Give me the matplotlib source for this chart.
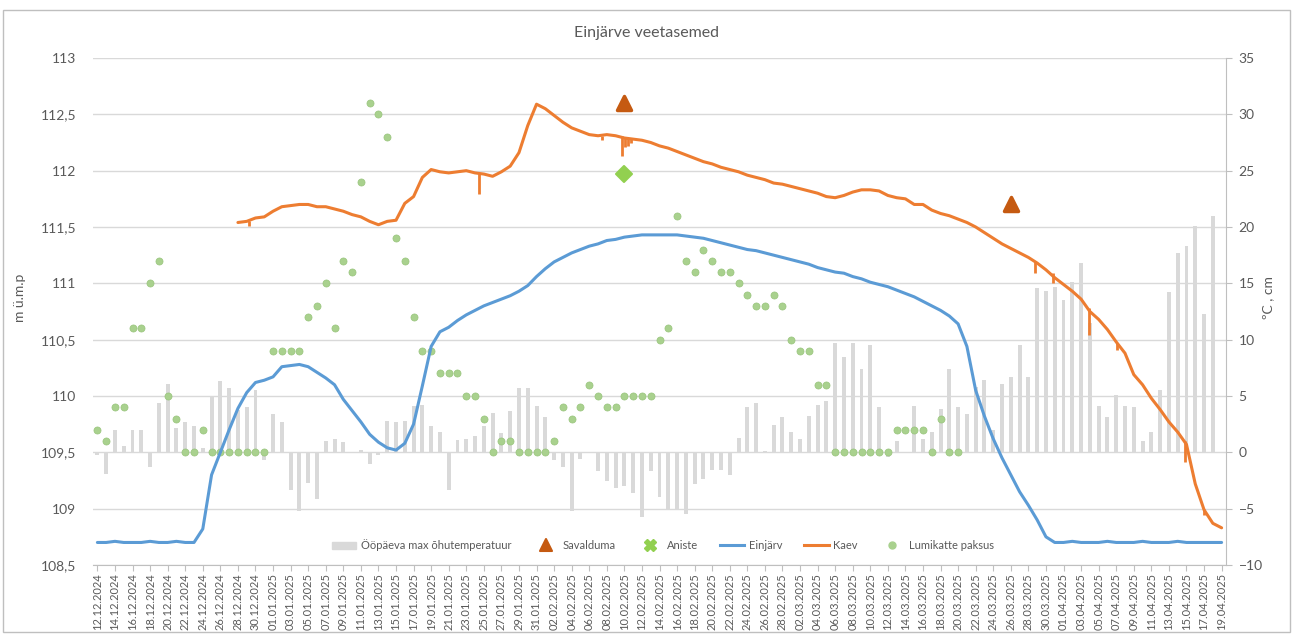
import numpy as np
import pandas as pd
import matplotlib
matplotlib.use("Agg")
import matplotlib.pyplot as plt
from matplotlib.lines import Line2D
from matplotlib.markers import MarkerStyle
from matplotlib.patches import Patch, Rectangle
from matplotlib.ticker import FuncFormatter

plt.rcParams["font.family"] = ["Lato", "DejaVu Sans"]

dates = pd.date_range("2024-12-12", "2025-04-19", freq="D")
tick_labels = dates[::2].strftime("%d.%m.%Y")

# daily max air temperature, degC (from 12.12.2024, 19.04 missing)
temp_max = [
    -0.2, -1.9, 2.0, 0.6, 2.0, 2.0, -1.3, 4.4, 6.1, 2.2,
    2.7, 2.3, 0.35, 4.9, 6.3, 5.7, 3.8, 4.0, 5.5, -0.7,
    3.4, 2.7, -3.3, -5.2, -2.7, -4.1, 1.0, 1.15, 0.9, 0.0,
    0.2, -1.0, -0.25, 2.8, 2.7, 2.8, 4.1, 4.2, 2.3, 1.8,
    -3.3, 1.1, 1.2, 1.45, 2.3, 3.5, 1.7, 3.7, 5.7, 5.75,
    4.1, 3.1, -0.7, -1.3, -5.2, -0.6, 0.0, -1.7, -2.5, -3.2,
    -3.0, -3.6, -5.7, -1.7, -4.0, -5.0, -5.0, -5.5, -2.8, -2.4,
    -1.55, -1.6, -2.0, 1.25, 4.05, 4.35, 0.15, 2.4, 3.1, 1.8,
    1.15, 3.2, 4.2, 4.55, 9.7, 8.5, 9.7, 7.4, 9.5, 4.05,
    -0.45, 1.0, 0.0, 4.1, 1.15, 1.8, 3.85, 7.4, 4.0, 3.4,
    5.8, 6.4, 2.0, 6.1, 6.65, 9.5, 6.65, 14.6, 14.3, 14.7,
    13.5, 15.1, 16.8, 11.5, 4.1, 3.1, 5.05, 4.1, 4.0, 1.0,
    1.8, 5.5, 14.2, 17.7, 18.3, 20.1, 12.3, 21.0,
]

# snow cover thickness, cm (from 12.12.2024)
snow_cm = [
    2, 1, 4, 4, 11, 11, 15, 17, 5, 3,
    0, 0, 2, 0, 0, 0, 0, 0, 0, 0,
    9, 9, 9, 9, 12, 13, 15, 11, 17, 16,
    24, 31, 30, 28, 19, 17, 12, 9, 9, 7,
    7, 7, 5, 5, 3, 0, 1, 1, 0, 0,
    0, 0, 1, 4, 3, 4, 6, 5, 4, 4,
    5, 5, 5, 5, 10, 11, 21, 17, 16, 18,
    17, 16, 16, 15, 14, 13, 13, 14, 13, 10,
    9, 9, 6, 6, 0, 0, 0, 0, 0, 0,
    0, 2, 2, 2, 2, 0, 3, 0, 0,
]

# lake level, m a.s.l. (from 12.12.2024)
einjarv = [
    108.70, 108.70, 108.71, 108.70, 108.70, 108.70, 108.71, 108.70, 108.70, 108.71,
    108.70, 108.70, 108.82, 109.30, 109.50, 109.70, 109.89, 110.03, 110.12, 110.14,
    110.17, 110.26, 110.27, 110.28, 110.26, 110.21, 110.16, 110.10, 109.97, 109.87,
    109.77, 109.66, 109.59, 109.54, 109.52, 109.58, 109.75, 110.09, 110.44, 110.57,
    110.61, 110.67, 110.72, 110.76, 110.80, 110.83, 110.86, 110.89, 110.93, 110.98,
    111.06, 111.13, 111.19, 111.23, 111.27, 111.30, 111.33, 111.35, 111.38, 111.39,
    111.41, 111.42, 111.43, 111.43, 111.43, 111.43, 111.43, 111.42, 111.41, 111.40,
    111.38, 111.36, 111.34, 111.32, 111.30, 111.29, 111.27, 111.25, 111.23, 111.21,
    111.19, 111.17, 111.14, 111.12, 111.10, 111.09, 111.06, 111.04, 111.01, 110.99,
    110.97, 110.94, 110.91, 110.88, 110.84, 110.80, 110.76, 110.71, 110.64, 110.44,
    110.05, 109.82, 109.62, 109.45, 109.30, 109.15, 109.03, 108.90, 108.75, 108.70,
    108.70, 108.71, 108.70, 108.70, 108.70, 108.71, 108.70, 108.70, 108.70, 108.71,
    108.70, 108.70, 108.70, 108.71, 108.70, 108.70, 108.70, 108.70, 108.70,
]

# well level, m a.s.l. (from 28.12.2024)
kaev = [
    111.54, 111.55, 111.58, 111.59, 111.64, 111.68, 111.69, 111.70, 111.70, 111.68,
    111.68, 111.66, 111.64, 111.61, 111.59, 111.55, 111.52, 111.55, 111.56, 111.71,
    111.77, 111.94, 112.01, 111.99, 111.98, 111.99, 112.00, 111.98, 111.97, 111.95,
    111.99, 112.04, 112.16, 112.40, 112.59, 112.55, 112.49, 112.43, 112.38, 112.35,
    112.32, 112.31, 112.32, 112.31, 112.29, 112.28, 112.27, 112.25, 112.22, 112.20,
    112.17, 112.14, 112.11, 112.08, 112.06, 112.03, 112.01, 111.99, 111.96, 111.94,
    111.92, 111.89, 111.88, 111.86, 111.84, 111.82, 111.80, 111.77, 111.76, 111.78,
    111.81, 111.83, 111.83, 111.82, 111.78, 111.76, 111.75, 111.70, 111.70, 111.65,
    111.62, 111.60, 111.57, 111.54, 111.50, 111.45, 111.40, 111.35, 111.31, 111.27,
    111.23, 111.18, 111.12, 111.05, 110.99, 110.93, 110.86, 110.75, 110.68, 110.59,
    110.48, 110.38, 110.19, 110.10, 109.98, 109.88, 109.77, 109.68, 109.57, 109.22,
    108.99, 108.87, 108.83,
]

# short pumping dips in the well record: time, level before, lowest level
dip_time = ["2024-12-29 05:00", "2025-01-24 12:00", "2025-02-07 12:00",
            "2025-02-09 17:00", "2025-02-10 02:00", "2025-02-10 10:00",
            "2025-02-10 19:00", "2025-03-28 19:00", "2025-03-30 19:00",
            "2025-04-03 22:00", "2025-04-07 02:00", "2025-04-14 19:00",
            "2025-04-17 00:00"]
dip_from = [111.55, 111.98, 112.31, 112.31, 112.30, 112.29, 112.29,
            111.20, 111.09, 110.78, 110.47, 109.60, 109.00]
dip_to = [111.51, 111.79, 112.27, 112.13, 112.21, 112.22, 112.25,
          111.09, 111.00, 110.54, 110.41, 109.41, 108.94]

savalduma_dates = ["2025-02-10", "2025-03-26"]
savalduma_level = [112.60, 111.70]
aniste_dates = ["2025-02-10"]
aniste_level = [111.97]

text_c = "#595959"
grid_c = "#d9d9d9"

fig = plt.figure(figsize=(12.93, 6.35), dpi=100)
ax = fig.add_axes([93 / 1293, 70 / 635, 1133 / 1293, 507 / 635])
ax2 = ax.twinx()
ax.set_zorder(ax2.get_zorder() + 1)
ax.patch.set_visible(False)

ax2.grid(axis="y", color=grid_c, lw=1)
ax2.set_axisbelow(True)
ax2.bar(dates[:len(temp_max)], temp_max, width=0.45, color=grid_c, zorder=2)
ax2.scatter(dates[:len(snow_cm)], snow_cm, s=26, color="#a9d18e",
            edgecolors="#98c47c", linewidths=0.5, zorder=3)

kaev_dates = dates[len(dates) - len(kaev):]
ax.plot(dates, einjarv, color="#5b9bd5", lw=2.2, solid_capstyle="round")
ax.plot(kaev_dates, kaev, color="#ed7d31", lw=2.2, solid_capstyle="round")
ax.vlines(pd.to_datetime(dip_time), dip_from, dip_to, color="#ed7d31", lw=2)
ax.plot(pd.to_datetime(savalduma_dates), savalduma_level, ls="none",
        marker=MarkerStyle("^", joinstyle="round"), ms=10, color="#c55a11",
        mec="#c55a11", mew=2.5)
ax.plot(pd.to_datetime(aniste_dates), aniste_level, ls="none",
        marker=MarkerStyle("D", joinstyle="round"), ms=8, color="#92d050",
        mec="#92d050", mew=1.5)

ax.set_xlim(dates[0] - pd.Timedelta(hours=12), dates[-1] + pd.Timedelta(hours=12))
ax.set_ylim(108.5, 113)
ax2.set_ylim(-10, 35)
ax.set_yticks(np.arange(108.5, 113.01, 0.5))
ax.yaxis.set_major_formatter(FuncFormatter(lambda v, p: f"{v:g}".replace(".", ",")))
ax2.set_yticks(range(-10, 36, 5))

ax.set_xticks(dates[::2])
ax.set_xticklabels(tick_labels, rotation=90, fontsize=8, color=text_c)
ax.tick_params(axis="x", length=4, color="#bfbfbf", pad=2)
ax.tick_params(axis="y", length=0, pad=12, labelsize=10, labelcolor=text_c)
ax2.tick_params(axis="y", length=4, color="#bfbfbf", pad=5, labelsize=10,
                labelcolor=text_c)

for s in ["top", "left", "right"]:
    ax.spines[s].set_visible(False)
for s in ["top", "left", "bottom"]:
    ax2.spines[s].set_visible(False)
ax.spines["bottom"].set_color("#bfbfbf")
ax2.spines["right"].set_color("#bfbfbf")

handles = [
    Patch(color=grid_c),
    Line2D([], [], ls="none", marker=MarkerStyle("^", joinstyle="round"), ms=8,
           color="#c55a11", mew=1.5),
    Line2D([], [], ls="none", marker="X", ms=8, color="#92d050"),
    Line2D([], [], color="#5b9bd5", lw=2.2),
    Line2D([], [], color="#ed7d31", lw=2.2),
    Line2D([], [], ls="none", marker="o", ms=5, color="#a9d18e"),
]
names = ["Ööpäeva max õhutemperatuur", "Savalduma", "Aniste", "Einjärv", "Kaev",
         "Lumikatte paksus"]
ax.legend(handles, names, loc="center", bbox_to_anchor=(0.503, 0.039), ncol=6,
          frameon=False, fontsize=8, labelcolor=text_c, handlelength=2.2,
          handleheight=0.6, columnspacing=2.0, handletextpad=0.4)

fig.text(646 / 1293, 1 - 33 / 635, "Einjärve veetasemed", ha="center",
         va="center", fontsize=11.5, color=text_c)
fig.text(20 / 1293, 1 - 298 / 635, "m ü.m.p", rotation=90, ha="center",
         va="center", fontsize=10, color=text_c)
fig.text(1268 / 1293, 1 - 298 / 635, "ºC , cm", rotation=90, ha="center",
         va="center", fontsize=10, color=text_c)
fig.add_artist(Rectangle((3 / 1293, 3 / 635), 1287 / 1293, 622 / 635,
                         transform=fig.transFigure, fill=False,
                         ec="#bfbfbf", lw=1))

fig.savefig("out.png", dpi=100)
